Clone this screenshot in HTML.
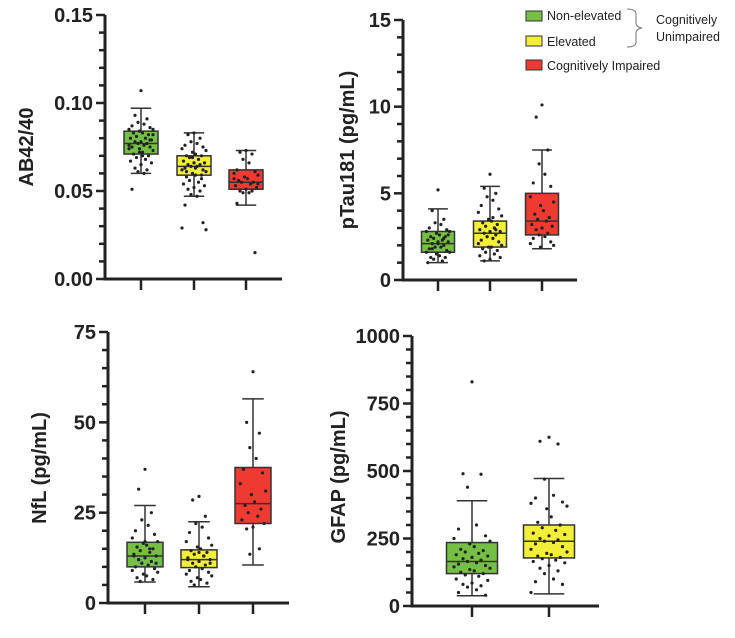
<!DOCTYPE html>
<html><head><meta charset="utf-8"><style>
body{margin:0;background:#fff;}
svg{display:block;font-family:"Liberation Sans",Arial,sans-serif;}
</style></head><body>
<svg id="c" width="735" height="638" viewBox="0 0 735 638">
<g font-size="12.5" fill="#222">
<rect x="526" y="11" width="16" height="10" fill="#74bf44" stroke="#333"/>
<text x="547" y="20">Non-elevated</text>
<rect x="526" y="36" width="16" height="10" fill="#f2ee3a" stroke="#333"/>
<text x="547" y="46">Elevated</text>
<rect x="526" y="60" width="16" height="10" fill="#ee3a30" stroke="#333"/>
<text x="547" y="70">Cognitively Impaired</text>
<path d="M627,9 Q636,9 636,14 L636,23 Q636,27 642,28 Q636,29 636,33 L636,42 Q636,47 627,47" fill="none" stroke="#777"/>
<text x="656" y="24">Cognitively</text>
<text x="656" y="41">Unimpaired</text>
</g>
</svg>
<script>
// ---------- data ----------
const colors = ["#74bf44","#f2ee3a","#ee3a30"];
// Panel 1 AB42/40
const ab_lo=[0.060,0.047,0.042], ab_q1=[0.071,0.059,0.051], ab_med=[0.077,0.064,0.055], ab_q3=[0.084,0.070,0.062], ab_hi=[0.097,0.083,0.073];
const ab_pts=[
[0.107,0.093,0.091,0.089,0.088,0.087,0.086,0.085,0.085,0.084,0.083,0.083,0.082,0.081,0.080,0.080,0.079,0.078,0.078,0.077,0.077,0.076,0.075,0.075,0.074,0.073,0.072,0.072,0.071,0.070,0.069,0.068,0.067,0.066,0.065,0.063,0.062,0.061,0.060,0.051,0.079,0.076,0.082,0.074,0.070],
[0.083,0.082,0.080,0.078,0.077,0.076,0.075,0.074,0.073,0.072,0.071,0.070,0.070,0.069,0.068,0.067,0.066,0.066,0.065,0.065,0.064,0.064,0.063,0.062,0.062,0.061,0.060,0.059,0.058,0.057,0.056,0.055,0.054,0.053,0.052,0.051,0.050,0.048,0.047,0.042,0.032,0.029,0.028,0.069,0.063,0.061,0.059],
[0.073,0.072,0.071,0.068,0.066,0.062,0.061,0.060,0.059,0.058,0.057,0.056,0.055,0.055,0.054,0.053,0.052,0.051,0.050,0.050,0.049,0.049,0.043,0.015,0.057,0.054]];
// Panel 2 pTau181
const pt_lo=[1.0,1.1,1.8], pt_q1=[1.6,1.9,2.6], pt_med=[2.1,2.7,3.4], pt_q3=[2.8,3.4,5.0], pt_hi=[4.1,5.4,7.5];
const pt_pts=[
[5.2,4.0,3.5,3.3,3.2,3.0,2.9,2.8,2.8,2.7,2.6,2.5,2.5,2.4,2.3,2.3,2.2,2.1,2.1,2.0,1.9,1.9,1.8,1.7,1.6,1.6,1.5,1.4,1.3,1.3,1.2,1.1,1.0,2.6,2.2,1.8,2.4],
[6.1,5.3,5.0,4.8,4.6,4.3,4.1,3.9,3.7,3.5,3.4,3.3,3.2,3.1,3.0,2.9,2.8,2.8,2.7,2.6,2.5,2.4,2.3,2.2,2.1,2.0,1.9,1.9,1.8,1.7,1.6,1.5,1.4,1.3,1.2,1.1,2.9,2.5,3.6],
[10.1,9.4,7.5,6.7,6.1,5.6,5.4,4.8,4.5,4.3,4.0,3.8,3.6,3.5,3.4,3.2,3.1,3.0,2.9,2.7,2.6,2.5,2.4,2.2,2.1,2.0,1.9]];
// Panel 3 NfL
const nf_lo=[5.8,4.5,10.5], nf_q1=[10.0,9.8,22], nf_med=[13.0,12.0,27.5], nf_q3=[16.8,14.7,37.5], nf_hi=[27,22.5,56.5];
const nf_pts=[
[37,31.5,25,23,21.5,20,19,18,17,16.5,16,15.5,15,14.5,14,13.5,13,12.5,12,11.5,11,10.5,10,9.5,9,8.5,8,7.5,7,6.5,6,15,13,11,17,12],
[29.5,28.5,24,22,21,19.5,18,17,16,15.5,15,14.5,14,13.5,13,12.5,12,11.5,11,10.5,10,9.5,9,8.5,8,7.5,7,6.5,6,5.5,5,13,12,11,14],
[64,50,47,43,40,37,36,33,31,30,28,27,26,25,24,23,22,21,20.5,15,13.5]];
// Panel 4 GFAP
const gf_lo=[38,45], gf_q1=[120,178], gf_med=[165,240], gf_q3=[235,300], gf_hi=[390,472];
const gf_pts=[
[830,490,488,440,300,285,260,250,240,230,220,210,205,200,195,190,185,180,175,170,165,160,155,150,145,140,135,130,125,120,115,110,100,95,85,80,75,70,60,50,40],
[625,610,600,470,410,400,385,380,370,360,330,310,300,290,280,270,265,260,250,245,240,235,230,220,210,200,195,190,185,180,175,170,165,160,150,140,130,120,100,90,80,50]];
const abTicks=["0.00","0.05","0.10","0.15"], ptTicks=["0","5","10","15"], nfTicks=["0","25","50","75"], gfTicks=["0","250","500","750","1000"];

// ---------- drawing ----------
const svg=document.getElementById('c');
const NS="http://www.w3.org/2000/svg";
function mk(tag,attrs,parent){const e=document.createElementNS(NS,tag);for(const k in attrs)e.setAttribute(k,attrs[k]);(parent||svg).appendChild(e);return e;}

const jit=[0,-6,6,-3,3,-9,9,-12,12,-1.5,1.5,-7.5,7.5,-4.5,4.5,-10.5,10.5];

function panel(p){
  const g=mk('g',{});
  
  
  const y=v=>p.y0-(v-p.min)/(p.max-p.min)*(p.y0-p.y1);
  const ax=mk('line',{x1:p.ax,y1:p.y1,x2:p.ax,y2:p.y0+1.5,stroke:'#222','stroke-width':3},g);
  
  
  const xa=mk('line',{x1:p.ax-1.5,y1:p.y0,x2:p.xend,y2:p.y0,stroke:'#222','stroke-width':3},g);
  
  
  const nMinor=Math.round((p.max-p.min)/p.minor);
  for(let i=0;i<=nMinor;i++){
    const v=p.min+i*p.minor, yy=y(v);
    const major=(i%p.per===0);
    mk('line',{x1:p.ax-(major?9:6),y1:yy,x2:p.ax,y2:yy,stroke:'#222','stroke-width':2.5},g);
  }
  p.ticks.forEach((t,i)=>{
    const tx=mk('text',{x:p.ax-12,y:y(parseFloat(t))+7,'text-anchor':'end','font-size':20,'font-weight':'bold',fill:'#222'},g);
    tx.textContent=t;
    
    
  });
  const tt=mk('text',{transform:`translate(${p.tx},${p.ty}) rotate(-90)`,'text-anchor':'middle','font-size':20,'font-weight':'bold',fill:'#222'},g);
  tt.textContent=p.title;
  
  
  p.cx.forEach((cx,k)=>{
    mk('line',{x1:cx,y1:p.y0,x2:cx,y2:p.y0+11,stroke:'#222','stroke-width':2.5},g);
    const hw=p.bw/2;
    const w=mk('line',{x1:cx,y1:y(p.lo[k]),x2:cx,y2:y(p.hi[k]),stroke:'#333','stroke-width':1.5},g);
    
    
    mk('line',{x1:cx-hw*0.6,y1:y(p.lo[k]),x2:cx+hw*0.6,y2:y(p.lo[k]),stroke:'#333','stroke-width':1.5},g);
    mk('line',{x1:cx-hw*0.6,y1:y(p.hi[k]),x2:cx+hw*0.6,y2:y(p.hi[k]),stroke:'#333','stroke-width':1.5},g);
    const b=mk('rect',{x:cx-hw,y:y(p.q3[k]),width:p.bw,height:y(p.q1[k])-y(p.q3[k]),fill:colors[k],stroke:'#333','stroke-width':1.5},g);
    
    
    mk('line',{x1:cx-hw,y1:y(p.med[k]),x2:cx+hw,y2:y(p.med[k]),stroke:'#333','stroke-width':1.5},g);
    p.pts[k].forEach((v,i)=>{
      const d=mk('circle',{cx:cx+jit[i%jit.length]*p.bw/34,cy:y(v),r:1.6,fill:'#222'},g);
      
      
    });
  });
}
panel({name:'ab4240',ax:105,y0:279,y1:15,min:0,max:0.15,minor:0.01,per:5,xend:282,ticks:abTicks,title:'AB42/40',tx:33,ty:147,cx:[141,194,246],bw:34,lo:ab_lo,q1:ab_q1,med:ab_med,q3:ab_q3,hi:ab_hi,pts:ab_pts});
panel({name:'ptau181',ax:403,y0:280,y1:20,min:0,max:15,minor:1,per:5,xend:577,ticks:ptTicks,title:'pTau181 (pg/mL)',tx:354,ty:150,cx:[438,490,542],bw:33,lo:pt_lo,q1:pt_q1,med:pt_med,q3:pt_q3,hi:pt_hi,pts:pt_pts});
panel({name:'nfl',ax:108,y0:603,y1:332,min:0,max:75,minor:5,per:5,xend:289,ticks:nfTicks,title:'NfL (pg/mL)',tx:46,ty:468,cx:[145,199,253],bw:36,lo:nf_lo,q1:nf_q1,med:nf_med,q3:nf_q3,hi:nf_hi,pts:nf_pts});
panel({name:'gfap',ax:412,y0:606,y1:336,min:0,max:1000,minor:50,per:5,xend:599,ticks:gfTicks,title:'GFAP (pg/mL)',tx:345,ty:477,cx:[472,549],bw:51,lo:gf_lo,q1:gf_q1,med:gf_med,q3:gf_q3,hi:gf_hi,pts:gf_pts});
</script>
</body></html>
